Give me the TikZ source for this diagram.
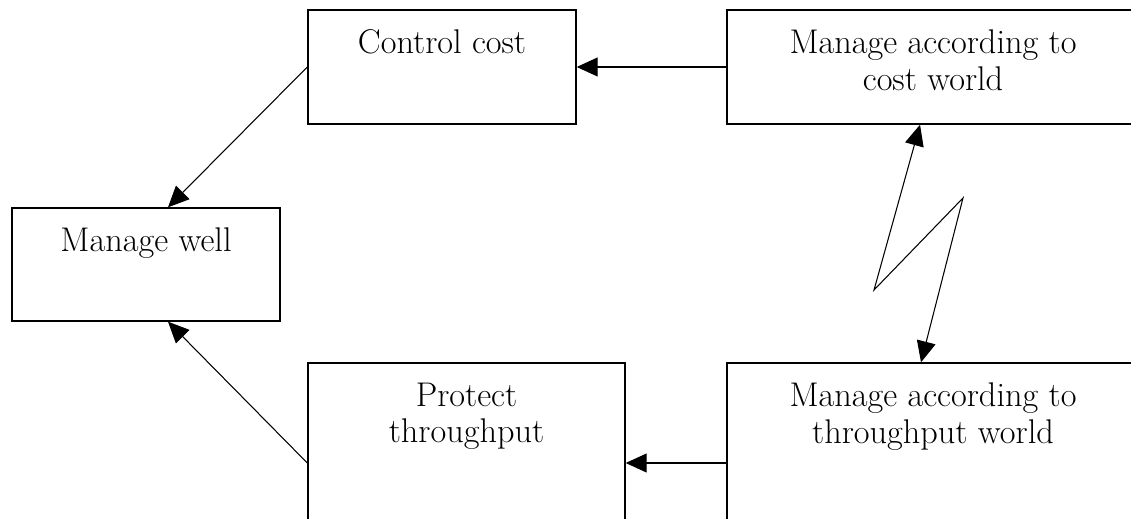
\documentclass[tikz,border=0pt]{standalone}
\usepackage{fontspec}
\usetikzlibrary{arrows.meta,positioning}

\begin{document}
\begin{tikzpicture}[x=0.02cm, y=-0.02cm,
		box/.style={rectangle, draw, line width=0.8pt, inner sep=0pt},
		lbl/.style={anchor=north, yshift=-0.4cm, inner sep=0pt, align=center, font=\fontsize{19.5}{21}\selectfont},
		link/.style={line width=0.6pt, -{Triangle[length=0.42cm, width=0.38cm]}}]
			\useasboundingbox (0,0) rectangle (1131,519);
			\clip (0,0) rectangle (1131,519);
			\node[box, minimum width=268*0.02cm, minimum height=114*0.02cm, label={[lbl]north:{Control cost}}] (cost) at (442,67) {};
			\node[box, minimum width=412*0.02cm, minimum height=114*0.02cm, label={[lbl]north:{Manage according to\\cost world}}] (costworld) at (933,67) {};
			\node[box, minimum width=268*0.02cm, minimum height=113*0.02cm, label={[lbl]north:{Manage well}}] (well) at (146,264.5) {};
			\node[box, minimum width=317*0.02cm, minimum height=200*0.02cm, label={[lbl]north:{Protect\\throughput}}] (protect) at (466.5,463) {};
			\node[box, minimum width=412*0.02cm, minimum height=200*0.02cm, label={[lbl]north:{Manage according to\\throughput world}}] (tpworld) at (933,463) {};
			\coordinate (zigA) at (874,290);
			\coordinate (zigB) at (963,198);
			\draw[link] (costworld.west) -- (cost.east);
			\draw[link] (tpworld.west) -- (protect.east);
			\draw[link] (cost.west) -- ([xshift=22*0.02cm]well.north);
			\draw[link] (protect.west) -- ([xshift=22*0.02cm]well.south);
			\draw[line width=0.6pt, {Triangle[length=0.42cm, width=0.38cm]}-{Triangle[length=0.42cm, width=0.38cm]}] ([xshift=-13*0.02cm]costworld.south) -- (zigA) -- (zigB) -- ([xshift=-12*0.02cm]tpworld.north);
\end{tikzpicture}
\end{document}
